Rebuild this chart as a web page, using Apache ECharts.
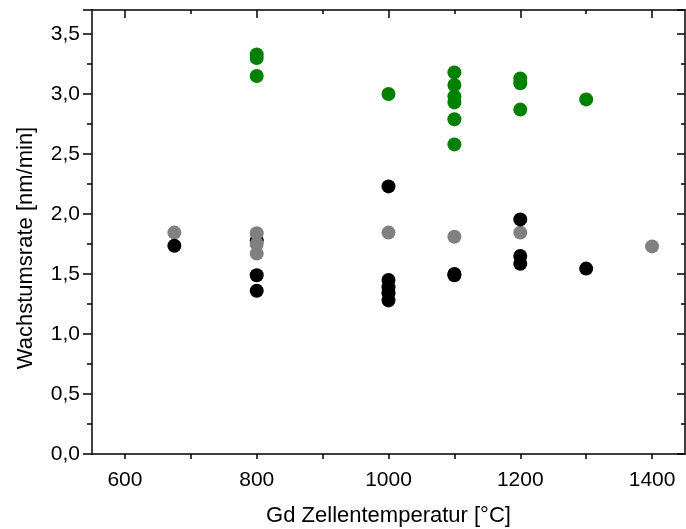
<!DOCTYPE html>
<html><head><meta charset="utf-8">
<script src="https://cdn.jsdelivr.net/npm/echarts@6/dist/echarts.min.js"></script>
<style>html,body{margin:0;padding:0;background:#fff}#c{width:686px;height:529px}</style>
</head><body><div id="c"></div>
<script>
// ---- data ----
var greenX = [800, 800, 800, 1000, 1100, 1100, 1100, 1100, 1100, 1100, 1200, 1200, 1200, 1300];
var greenY = [3.33, 3.30, 3.15, 3.00, 3.18, 3.075, 2.98, 2.93, 2.79, 2.58, 3.13, 3.09, 2.87, 2.955];
var greyX = [675, 800, 800, 800, 1000, 1100, 1200, 1400];
var greyY = [1.845, 1.84, 1.75, 1.67, 1.845, 1.81, 1.845, 1.73];
var blackBackX = [800];
var blackBackY = [1.78];
var blackX = [675, 800, 800, 1000, 1000, 1000, 1000, 1000, 1100, 1100, 1200, 1200, 1200, 1300];
var blackY = [1.735, 1.49, 1.36, 2.23, 1.45, 1.39, 1.34, 1.28, 1.50, 1.49, 1.955, 1.65, 1.585, 1.545];
var xLabelValues = [600, 800, 1000, 1200, 1400];
var xTickValues = [600, 700, 800, 900, 1000, 1100, 1200, 1300, 1400];
var xMinorTickValues = [700, 900, 1100, 1300];
var xTitle = 'Gd Zellentemperatur [°C]';
var yTitle = 'Wachstumsrate [nm/min]';

function pairs(xs, ys) { return xs.map(function (x, i) { return [x, ys[i]]; }); }

var FONT = 'Liberation Sans, Arial, sans-serif';
var tickStyle = { color: '#000', width: 1.5 };
function axisLine(show) { return { show: show, onZero: false, lineStyle: { color: '#000', width: 1.5 } }; }
var gridRect = { left: 92, right: 1, top: 10, bottom: 75, outerBoundsMode: 'none', containLabel: false };
var chart = echarts.init(document.getElementById('c'));
chart.setOption({
  animation: false,
  grid: [ Object.assign({}, gridRect), Object.assign({}, gridRect) ],
  xAxis: [
    { type: 'value', gridIndex: 0, position: 'bottom', min: 550, max: 1450,
      name: xTitle, nameLocation: 'middle', nameGap: 51,
      nameTextStyle: { fontFamily: FONT, fontSize: 22, color: '#000' },
      axisLine: axisLine(true),
      axisTick: { show: true, customValues: xTickValues, length: 5, lineStyle: tickStyle },
      axisLabel: { customValues: xLabelValues, fontFamily: FONT, fontSize: 21, color: '#000', margin: 16,
        formatter: function (v) { return String(v); } },
      splitLine: { show: false } },
    { type: 'value', gridIndex: 0, position: 'top', min: 550, max: 1450,
      axisLine: axisLine(true),
      axisTick: { show: true, inside: true, customValues: xLabelValues, length: 8, lineStyle: tickStyle },
      axisLabel: { show: false }, splitLine: { show: false } },
    { type: 'value', gridIndex: 1, position: 'top', min: 550, max: 1450,
      axisLine: axisLine(false),
      axisTick: { show: true, inside: true, customValues: xMinorTickValues, length: 4, lineStyle: tickStyle },
      axisLabel: { show: false }, splitLine: { show: false } }
  ],
  yAxis: [
    { type: 'value', gridIndex: 0, position: 'left', min: 0, max: 3.7, interval: 0.5,
      name: yTitle, nameLocation: 'middle', nameGap: 55, nameRotate: 90,
      nameTextStyle: { fontFamily: FONT, fontSize: 22, color: '#000', padding: [0, 32, 0, 0] },
      axisLine: axisLine(true),
      axisTick: { show: true, length: 9, lineStyle: tickStyle },
      minorTick: { show: true, splitNumber: 2, length: 5, lineStyle: tickStyle },
      axisLabel: { fontFamily: FONT, fontSize: 21, color: '#000', margin: 12, showMaxLabel: false,
        formatter: function (v) { return v.toFixed(1).replace('.', ','); } },
      splitLine: { show: false } },
    { type: 'value', gridIndex: 0, position: 'right', min: 0, max: 3.7, interval: 0.5,
      axisLine: axisLine(true),
      axisTick: { show: true, inside: true, length: 8, lineStyle: tickStyle },
      minorTick: { show: true, splitNumber: 2, length: 4, lineStyle: tickStyle },
      axisLabel: { show: false }, splitLine: { show: false } },
    { type: 'value', gridIndex: 1, min: 0, max: 3.7, show: false }
  ],
  series: [
    { type: 'scatter', symbolSize: 14, itemStyle: { color: '#000', opacity: 1 }, data: pairs(blackBackX, blackBackY), z: 2 },
    { type: 'scatter', symbolSize: 14, itemStyle: { color: '#808080', opacity: 1 }, data: pairs(greyX, greyY), z: 3 },
    { type: 'scatter', symbolSize: 14, itemStyle: { color: '#000', opacity: 1 }, data: pairs(blackX, blackY), z: 4 },
    { type: 'scatter', symbolSize: 14, itemStyle: { color: '#008000', opacity: 1 }, data: pairs(greenX, greenY), z: 5 }
  ]
});
</script>
</body></html>
